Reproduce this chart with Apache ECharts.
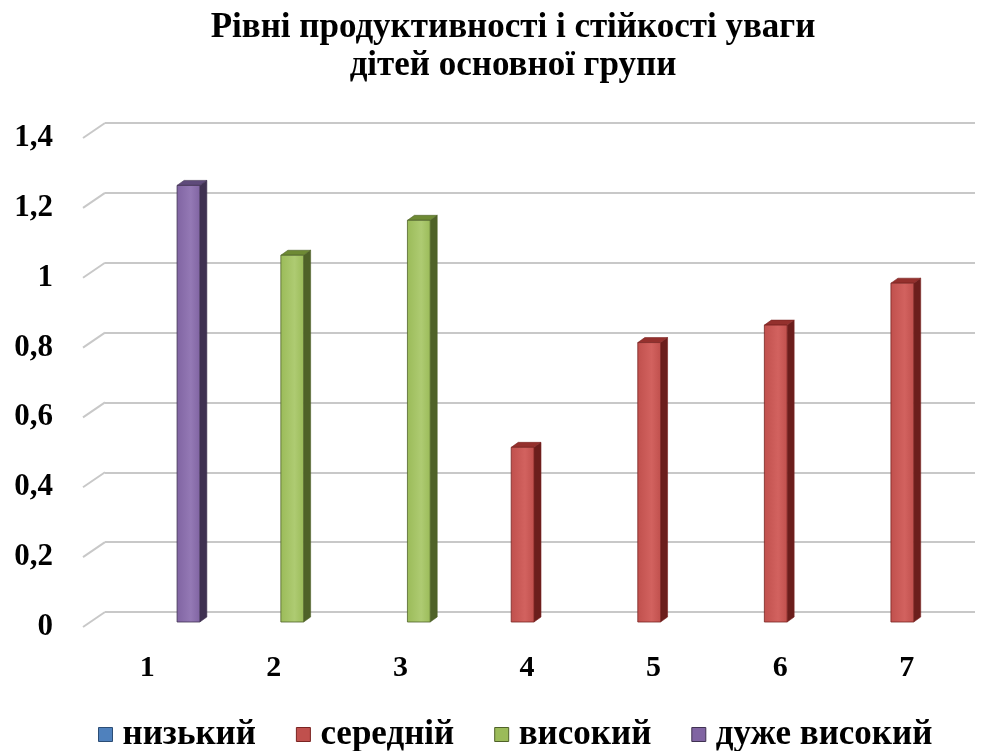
<!DOCTYPE html>
<html>
<head>
<meta charset="utf-8">
<script src="https://cdn.jsdelivr.net/npm/echarts@6/dist/echarts.min.js"></script>
<style>
html,body{margin:0;padding:0;background:#fff;}
#chart{width:986px;height:751px;}
</style>
</head>
<body>
<div id="chart"></div>
<script>
// ---- data ----
const categories = ['1', '2', '3', '4', '5', '6', '7'];
const seriesNames = ['низький', 'середній', 'високий', 'дуже високий'];
const lowValues      = [0, 0, 0, 0, 0, 0, 0];
const mediumValues   = [0, 0, 0, 0.5, 0.8, 0.85, 0.97];
const highValues     = [0, 1.05, 1.15, 0, 0, 0, 0];
const veryHighValues = [1.25, 0, 0, 0, 0, 0, 0];
const tickValues = [0, 0.2, 0.4, 0.6, 0.8, 1, 1.2, 1.4];
const titleText = 'Рівні продуктивності і стійкості уваги\nдітей основної групи';

// ---- styles ----
const palette = [
  {front: '#4F81BD', light: '#6A98D0', side: '#2C4D75', top: '#3E6A9E', border: '#2C4D75'},
  {front: '#C0504D', light: '#D2625F', side: '#6B1E1C', top: '#94302D', border: '#7A2422'},
  {front: '#9BBB59', light: '#AECB72', side: '#4F6228', top: '#6E8A34', border: '#4F6228'},
  {front: '#8064A2', light: '#9479B5', side: '#3F3151', top: '#5E4A7A', border: '#3F3151'}
];
const FONT = '"Liberation Serif", "DejaVu Serif", serif';
const DX = 7, DY = -5;
const BAR_FRAC = 0.18;

function barRender(sIdx) {
  const c = palette[sIdx];
  return function (params, api) {
    const v = api.value(1);
    if (!v) return null;
    const cat = api.value(0);
    const band = api.size([1, 0])[0];
    const w = band * BAR_FRAC;
    const center = api.coord([cat, 0])[0] + (sIdx - 1.5) * w;
    const yb = api.coord([cat, 0])[1];
    const yt = api.coord([cat, v])[1];
    const x0 = center - w / 2, x1 = center + w / 2;
    return {
      type: 'group',
      children: [
        {type: 'polygon', shape: {points: [[x1, yt], [x1 + DX, yt + DY], [x1 + DX, yb + DY], [x1, yb]]},
         style: {fill: c.side, stroke: c.border, lineWidth: 0.6}},
        {type: 'polygon', shape: {points: [[x0, yt], [x0 + DX, yt + DY], [x1 + DX, yt + DY], [x1, yt]]},
         style: {fill: c.top, stroke: c.border, lineWidth: 0.6}},
        {type: 'rect', shape: {x: x0, y: yt, width: w, height: yb - yt},
         style: {
           fill: new echarts.graphic.LinearGradient(0, 0, 1, 0, [
             {offset: 0, color: c.front}, {offset: 0.6, color: c.light}, {offset: 1, color: c.front}
           ]),
           stroke: c.border, lineWidth: 0.8
         }}
      ]
    };
  };
}

const seriesData = [lowValues, mediumValues, highValues, veryHighValues];

const chart = echarts.init(document.getElementById('chart'), null, {renderer: 'canvas'});
const fmt = v => String(Math.round(v * 10) / 10).replace('.', ',');

const option = {
  backgroundColor: '#fff',
  animation: false,
  title: {
    text: titleText,
    left: 508, top: 4, textAlign: 'center',
    textStyle: {fontFamily: FONT, fontWeight: 'bold', fontSize: 35, lineHeight: 38, color: '#000'}
  },
  legend: {
    data: seriesNames,
    left: 93, top: 712,
    icon: 'rect', itemWidth: 14, itemHeight: 14, itemGap: 40,
    itemStyle: {borderWidth: 1},
    textStyle: {fontFamily: FONT, fontWeight: 'bold', fontSize: 35, color: '#000', padding: [0, 0, 0, 5]}
  },
  grid: [
    {left: 84, width: 886, top: 138, height: 489},   // front plane (labels)
    {left: 91, width: 886, top: 133, height: 489},   // bar plane
    {left: 105, width: 870, top: 123, height: 489}   // back wall
  ],
  xAxis: [
    {type: 'category', gridIndex: 0, data: categories,
     axisLine: {show: false}, axisTick: {show: false},
     axisLabel: {margin: 26, fontFamily: FONT, fontWeight: 'bold', fontSize: 30, color: '#000'}},
    {type: 'category', gridIndex: 1, data: categories, show: false},
    {type: 'category', gridIndex: 2, data: categories, show: false}
  ],
  yAxis: [
    {type: 'value', gridIndex: 0, min: 0, max: 1.4, interval: 0.2,
     axisLine: {show: false}, axisTick: {show: false}, splitLine: {show: false},
     axisLabel: {margin: 31, formatter: fmt, fontFamily: FONT, fontWeight: 'bold', fontSize: 31, color: '#000'}},
    {type: 'value', gridIndex: 1, min: 0, max: 1.4, interval: 0.2, show: false, splitLine: {show: false}},
    {type: 'value', gridIndex: 2, min: 0, max: 1.4, interval: 0.2,
     axisLine: {show: false}, axisTick: {show: false}, axisLabel: {show: false},
     splitLine: {show: true, lineStyle: {color: '#C8C8C8', width: 2}}}
  ],
  series: [
    {
      type: 'custom', name: 'diag', xAxisIndex: 0, yAxisIndex: 0, silent: true,
      data: tickValues.map(v => [0, v]),
      renderItem: function (params, api) {
        const y = api.coord([0, api.value(1)])[1];
        const x = params.coordSys.x;
        return {type: 'line', shape: {x1: x - 1, y1: y, x2: x + 21, y2: y - 15},
                style: {stroke: '#C8C8C8', lineWidth: 2}};
      }
    }
  ].concat(seriesNames.map((name, i) => ({
    type: 'custom', name: name, xAxisIndex: 1, yAxisIndex: 1,
    itemStyle: {color: palette[i].front, borderColor: palette[i].border, borderWidth: 1},
    data: seriesData[i].map((v, j) => [j, v]),
    encode: {x: 0, y: 1},
    renderItem: barRender(i)
  })))
};
chart.setOption(option);
</script>
</body>
</html>
